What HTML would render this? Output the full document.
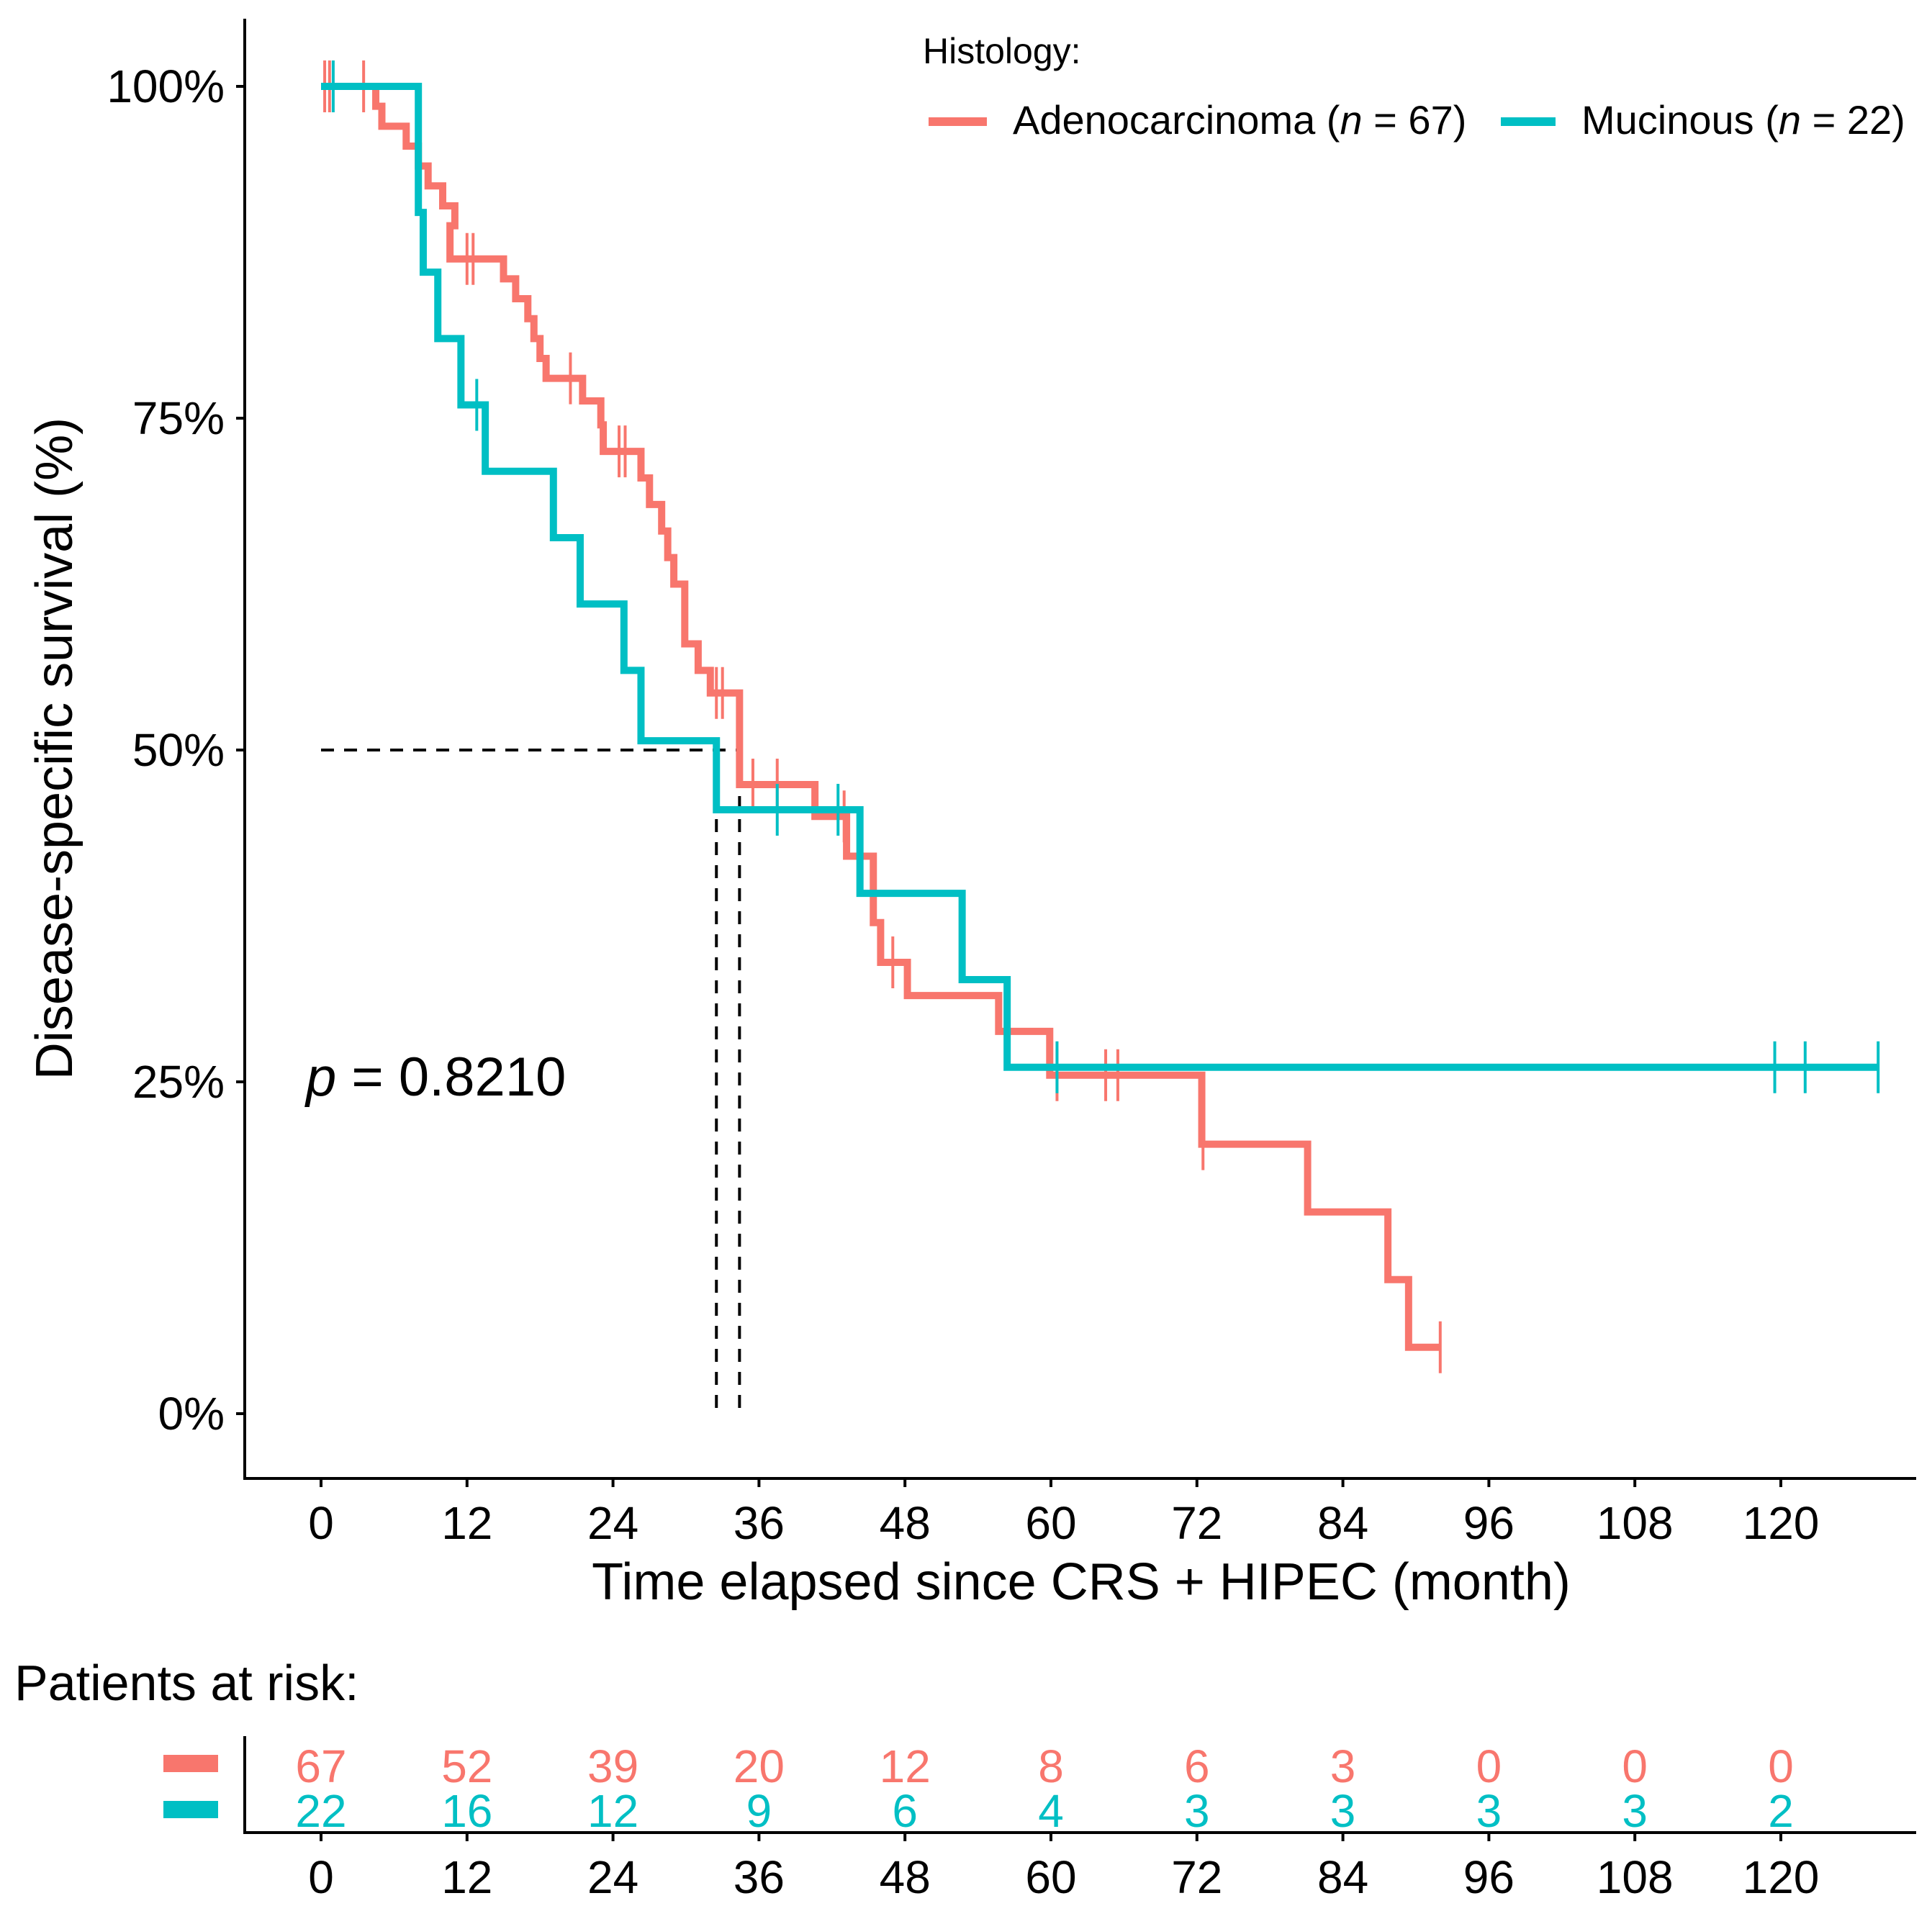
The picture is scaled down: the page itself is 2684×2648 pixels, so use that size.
<!DOCTYPE html>
<html><head><meta charset="utf-8"><style>
html,body{margin:0;padding:0;background:#fff;}
svg{display:block;font-family:"Liberation Sans",sans-serif;}
</style></head><body>
<svg id="chart" width="2684" height="2648" viewBox="0 0 2684 2648" xmlns="http://www.w3.org/2000/svg">
<g id="plot"></g>
<text x="1282" y="88" font-size="50">Histology:</text>
<line x1="1290" y1="169" x2="1371" y2="169" stroke="#F8766D" stroke-width="12"/>
<text x="1407" y="186" font-size="56">Adenocarcinoma (<tspan font-style="italic">n</tspan> = 67)</text>
<line x1="2085" y1="169" x2="2161" y2="169" stroke="#00BFC4" stroke-width="12"/>
<text x="2197" y="186" font-size="56">Mucinous (<tspan font-style="italic">n</tspan> = 22)</text>
<text x="425" y="1522" font-size="76"><tspan font-style="italic">p</tspan> = 0.8210</text>
<text transform="translate(100,1040) rotate(-90)" text-anchor="middle" font-size="72">Disease-specific survival (%)</text>
<text x="1502" y="2222" text-anchor="middle" font-size="72">Time elapsed since CRS + HIPEC (month)</text>
<text x="20" y="2362" font-size="70">Patients at risk:</text>
<g id="risk"></g>
</svg>
<script>
const adenoTimes=[0,4.5,5,7,8,8.8,10,11,10.6,15,16,17,17.5,18,18.5,21.5,23,23.2,26.3,27,28,28.5,29,29.9,31,32,34.4,40.6,43.2,45.4,46,48.2,55.7,59.9,72.4,81.1,87.7,89.4];
const adenoSurv=[100,98.5,97,95.5,94,92.5,91,89.5,87,85.5,84,82.5,81,79.5,78,76.3,74.5,72.5,70.5,68.5,66.5,64.5,62.5,58,56,54.3,47.4,45,42,37,34,31.5,28.8,25.5,20.3,15.2,10.1,5];
const adenoEnd=92;
const adenoCensor=[0.3,0.7,3.5,12,12.5,20.5,24.5,25,32.5,33,35.5,37.5,43,47,60.5,64.5,65.5,72.5,92];
const mucTimes=[0,8.0,8.4,9.6,11.5,13.5,19.1,21.3,24.9,26.3,32.5,44.3,52.7,56.4];
const mucSurv=[100,90.5,86,81,76,71,66,61,56,50.7,45.5,39.2,32.7,26.1];
const mucEnd=128;
const mucCensor=[1,12.8,37.5,42.5,60.5,119.5,122,128];
const xTicks=[0,12,24,36,48,60,72,84,96,108,120];
const yTicks=[0,25,50,75,100];
const riskAdeno=[67,52,39,20,12,8,6,3,0,0,0];
const riskMuc=[22,16,12,9,6,4,3,3,3,3,2];
const medians=[32.5,34.4];

const NS="http://www.w3.org/2000/svg";
const X=m=>446+m*16.9;
const Y=s=>1964-s*18.44;
const plot=document.getElementById('plot');
function mk(tag,attrs,parent){const e=document.createElementNS(NS,tag);for(const k in attrs)e.setAttribute(k,attrs[k]);parent.appendChild(e);return e;}

let e=mk('line',{x1:340,y1:26,x2:340,y2:2054,stroke:'#000','stroke-width':4},plot);


e=mk('line',{x1:338,y1:2054,x2:2662,y2:2054,stroke:'#000','stroke-width':4},plot);


yTicks.forEach(v=>{
 let t=mk('line',{x1:328,y1:Y(v),x2:340,y2:Y(v),stroke:'#000','stroke-width':4},plot);
 
 
 let l=mk('text',{x:312,y:Y(v)+22,'text-anchor':'end','font-size':64},plot);
 l.textContent=v+'%';
 
 
});
xTicks.forEach(v=>{
 let t=mk('line',{x1:X(v),y1:2054,x2:X(v),y2:2066,stroke:'#000','stroke-width':4},plot);
 
 
 let l=mk('text',{x:X(v),y:2138,'text-anchor':'middle','font-size':64},plot);
 l.textContent=v;
 
 
});
let d='M'+X(0)+' '+Y(50)+' H'+X(Math.max(...medians));
medians.forEach(m=>{d+=' M'+X(m)+' '+Y(50)+' V'+Y(0);});
e=mk('path',{d:d,stroke:'#000','stroke-width':4,'stroke-dasharray':'18,14',fill:'none'},plot);



function survAt(times,surv,t){let s=surv[0];for(let i=0;i<times.length;i++){if(times[i]<=t)s=surv[i];}return s;}
function curve(times,surv,end,censor,color,name){
 let p='M'+X(times[0])+' '+Y(surv[0]);
 for(let i=1;i<times.length;i++){p+=' H'+X(times[i])+' V'+Y(surv[i]);}
 p+=' H'+X(end);
 let c=mk('path',{d:p,stroke:color,'stroke-width':10,fill:'none','stroke-linejoin':'miter'},plot);
 
 
 censor.forEach(t=>{
  const s=survAt(times,surv,t);
  let m=mk('line',{x1:X(t),y1:Y(s)-36,x2:X(t),y2:Y(s)+36,stroke:color,'stroke-width':4},plot);
  
  
 });
}
curve(adenoTimes,adenoSurv,adenoEnd,adenoCensor,'#F8766D','adenocarcinoma');
curve(mucTimes,mucSurv,mucEnd,mucCensor,'#00BFC4','mucinous');

const risk=document.getElementById('risk');
e=mk('line',{x1:340,y1:2412,x2:340,y2:2548,stroke:'#000','stroke-width':4},risk);


e=mk('line',{x1:338,y1:2546,x2:2662,y2:2546,stroke:'#000','stroke-width':4},risk);


e=mk('rect',{x:227,y:2438,width:76,height:24,fill:'#F8766D'},risk);


e=mk('rect',{x:227,y:2502,width:76,height:24,fill:'#00BFC4'},risk);


xTicks.forEach((v,i)=>{
 let a=mk('text',{x:X(v),y:2476,'text-anchor':'middle','font-size':64,fill:'#F8766D'},risk);
 a.textContent=riskAdeno[i];
 
 
 let b=mk('text',{x:X(v),y:2538,'text-anchor':'middle','font-size':64,fill:'#00BFC4'},risk);
 b.textContent=riskMuc[i];
 
 
 let t=mk('line',{x1:X(v),y1:2546,x2:X(v),y2:2558,stroke:'#000','stroke-width':4},risk);
 
 
 let l=mk('text',{x:X(v),y:2630,'text-anchor':'middle','font-size':64},risk);
 l.textContent=v;
 
 
});
</script>
</body></html>
